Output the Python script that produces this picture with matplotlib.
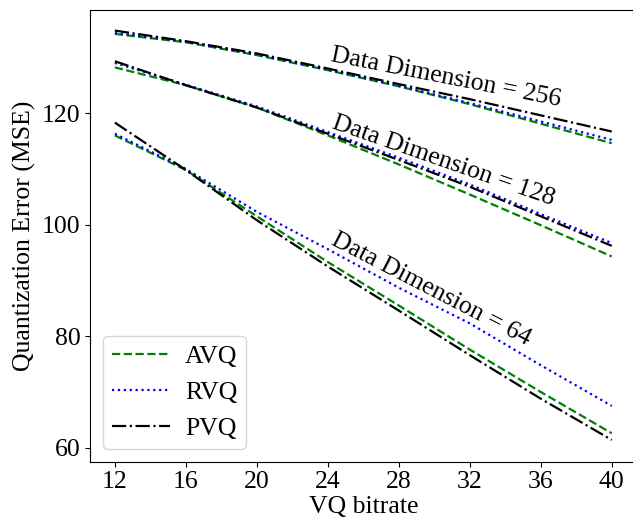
import matplotlib
matplotlib.use("Agg")
import matplotlib.pyplot as plt

plt.rcParams['font.family'] = ['Liberation Serif', 'DejaVu Serif']
plt.rcParams['mathtext.fontset'] = 'stix'

bitrates = [12, 16, 20, 24, 28, 32, 36, 40]

# Dimension 256
avq_256 = [134.2, 132.7, 130.4, 127.7, 124.8, 121.6, 118.1, 114.6]
rvq_256 = [134.4, 132.8, 130.5, 127.8, 124.9, 121.8, 118.5, 115.2]
pvq_256 = [134.8, 132.9, 130.7, 128.0, 125.2, 122.5, 119.6, 116.7]

# Dimension 128
avq_128 = [128.2, 125.0, 121.0, 116.0, 110.8, 105.4, 99.9, 94.3]
rvq_128 = [129.0, 125.1, 121.2, 116.6, 112.0, 107.2, 101.9, 96.7]
pvq_128 = [129.3, 125.0, 121.0, 116.3, 111.6, 106.8, 101.5, 96.2]

# Dimension 64
avq_64 = [116.0, 109.8, 101.5, 93.3, 85.5, 77.6, 70.0, 62.6]
rvq_64 = [116.3, 110.0, 102.3, 95.6, 88.7, 82.3, 74.8, 67.5]
pvq_64 = [118.3, 109.8, 100.8, 92.5, 84.6, 76.6, 68.8, 61.4]

xticks = [12, 16, 20, 24, 28, 32, 36, 40]
yticks = [60, 80, 100, 120]

FS = 18.5

fig = plt.figure(figsize=(6.33, 5.23), dpi=100)
ax = fig.add_axes([0.1422, 0.1172, 0.8635, 0.8638])

styles = dict(
    AVQ=dict(color='green', linestyle='--'),
    RVQ=dict(color='blue', linestyle=':'),
    PVQ=dict(color='black', linestyle='-.'),
)
lw = 1.6

groups = [
    (avq_256, rvq_256, pvq_256),
    (avq_128, rvq_128, pvq_128),
    (avq_64, rvq_64, pvq_64),
]
for i, (a, r, p) in enumerate(groups):
    ax.plot(bitrates, a, lw=lw, label='AVQ' if i == 0 else None, **styles['AVQ'])
    ax.plot(bitrates, r, lw=lw, label='RVQ' if i == 0 else None, **styles['RVQ'])
    ax.plot(bitrates, p, lw=lw, label='PVQ' if i == 0 else None, **styles['PVQ'])

ax.text(24.15, 129.3, 'Data Dimension = 256', fontsize=FS, rotation=-11.1,
        ha='left', va='baseline', rotation_mode='anchor')
ax.text(24.2, 117.3, 'Data Dimension = 128', fontsize=FS, rotation=-19.3,
        ha='left', va='baseline', rotation_mode='anchor')
ax.text(24.15, 96.6, 'Data Dimension = 64', fontsize=FS, rotation=-27.3,
        ha='left', va='baseline', rotation_mode='anchor')

ax.set_xlim(10.6, 41.4)
ax.set_ylim(57.5, 138.5)
ax.set_xticks(xticks)
ax.set_yticks(yticks)
ax.tick_params(labelsize=FS)
ax.set_xlabel('VQ bitrate', fontsize=FS, labelpad=2)
ax.set_ylabel('Quantization Error (MSE)', fontsize=FS, labelpad=4)

ax.legend(loc='lower left', fontsize=FS, handlelength=2.25, borderpad=0.35,
          labelspacing=0.5, handletextpad=0.6)

fig.savefig('out.png', dpi=100)
